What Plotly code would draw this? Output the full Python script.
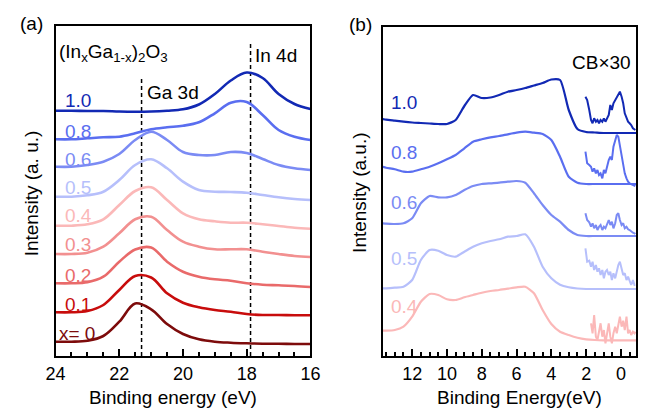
import plotly.graph_objects as go

# ---------------- Panel (a): core-level spectra ----------------
E_A = [24, 23.5, 23, 22.5, 22, 21.5, 21, 20.5, 20, 19.5, 19, 18.5, 18, 17.5, 17, 16.5, 16]
A_LABELS = ["x= 0", "0.1", "0.2", "0.3", "0.4", "0.5", "0.6", "0.8", "1.0"]
A_X00 = [14.3, 14.3, 15.3, 20, 34.3, 52.5, 46.7, 32, 22, 16.7, 14.3, 13.3, 12.7, 12.3, 12.3, 12, 12]
A_X01 = [43.7, 43.7, 45, 51, 66, 80, 78.5, 62.7, 53.3, 48.7, 46, 44.3, 42, 41, 41, 40.7, 40.7]
A_X02 = [72.7, 72.7, 73.7, 79.3, 94.3, 106.5, 108.5, 94.3, 84.3, 79.3, 76.7, 75.3, 72.7, 71.3, 70.7, 70, 69]
A_X03 = [102, 102, 103.3, 109.3, 122.7, 136.7, 139.3, 126, 114.3, 109.3, 106.7, 106.7, 106.7, 104.3, 102, 100, 99]
A_X04 = [130.3, 130.3, 131.7, 136.7, 151, 165, 168.7, 156, 142.7, 136.7, 134.7, 133.3, 133.3, 131.7, 130, 128.3, 127.3]
A_X05 = [159.3, 159.3, 160.7, 164.3, 176, 191, 196.7, 187.7, 174.3, 166, 164.3, 164, 163.3, 161, 158.7, 157, 156]
A_X06 = [189.3, 189.3, 191, 194.3, 202, 216, 224.3, 216, 204, 201, 201, 204, 203, 197, 191, 187.7, 186]
A_X08 = [216.7, 216.7, 217.7, 218.7, 219.3, 222.7, 226.7, 228.7, 230.3, 233.7, 242.7, 253.3, 254, 241, 226, 219.3, 216]
A_X10 = [245.3, 245.3, 245, 245, 244.5, 244.3, 244.5, 245.3, 246.7, 251.5, 262, 275.5, 283.5, 278, 262, 252, 247]
A_SERIES = [A_X00, A_X01, A_X02, A_X03, A_X04, A_X05, A_X06, A_X08, A_X10]
A_LABEL_Y = [333, 304, 275, 244, 215.5, 187.5, 159, 131, 100.5]  # label centres (px)

GA3D_E, GA3D_TOP = 21.3, 280
IN4D_E, IN4D_TOP = 17.88, 312

# ---------------- Panel (b): valence band spectra ----------------
E_B = [13.7, 13.5, 13, 12.5, 12, 11.5, 11, 10.5, 10, 9.5, 9, 8.5, 8, 7.5, 7, 6.5, 6,
       5.5, 5, 4.5, 4, 3.5, 3, 2.5, 2, 1.5, 1, 0.5, 0, -0.5, -0.9]
B_LABELS = ["0.4", "0.5", "0.6", "0.8", "1.0"]
B_X04 = [25.3, 25.3, 26, 29.3, 39.3, 54.3, 62, 61, 56.7, 56, 58.7, 61, 63.3, 65, 66, 67.3, 68.7,
         69.3, 62.7, 46, 32, 24.3, 21, 18.3, 16.7, 16, 15.7, 15.7, 15.7, 15.7, 15.7]
B_X05 = [67.7, 67.7, 68.3, 69.3, 76, 96, 106, 105.3, 101, 99.3, 104.3, 109.3, 112.7, 115, 116.7, 119.3, 120,
         121.7, 109.3, 89.3, 77.7, 71.3, 68.7, 67.5, 67, 67, 67, 67, 67, 67, 67]
B_X06 = [132.7, 132.3, 132, 132.7, 137.7, 152.7, 160, 158.7, 158.7, 161, 166, 170, 172, 172.7, 173.3, 174.3, 175,
         173.3, 162.7, 151, 141, 134.3, 126, 121, 120, 120, 120, 120, 120, 120, 120]
B_X08 = [189.3, 188.3, 186.7, 184.3, 184.3, 186.7, 189.3, 192.7, 196.7, 201, 207.7, 214.3, 216.7, 218.7, 220, 221.7, 223.3,
         224.3, 223.3, 222, 216, 199.3, 179.3, 173.3, 172, 172, 172, 172, 172, 172, 172]
B_X10 = [237, 236.3, 235.3, 234.3, 233.5, 233, 232.5, 232, 232, 236, 250, 261, 258, 258.5, 261, 264.3, 266,
         268, 270.5, 273, 276.5, 276, 246, 227, 224, 223.5, 223, 223, 223, 223, 223]
B_SERIES = [B_X04, B_X05, B_X06, B_X08, B_X10]
B_LABEL_Y = [306.7, 258.3, 202.3, 152.3, 102.3]

# conduction-band (x30) traces
E_CB = [2.04, 1.94, 1.82, 1.72, 1.63, 1.54, 1.44, 1.35, 1.26, 1.17, 1.07, 0.98, 0.89, 0.80, 0.70, 0.61,
        0.52, 0.43, 0.33, 0.24, 0.15, 0.06, -0.04, -0.13, -0.22, -0.32, -0.41, -0.50, -0.59, -0.69, -0.78, -0.83]
CB_X04 = [None, None, None, 32.7, 22.7, 41, 19.3, 16, 26, 32.7, 19.3, 26, 12.7, 22.7, 32.7, 19.3,
          12.7, 22.7, 29.3, 22.7, 32.7, 39.3, 29.3, 35.3, 26, 39.3, 22.7, 26, 21, 24.3, 22.7, 24.3]
CB_X05 = [107.7, 94.3, 95.3, 89.3, 94.3, 86, 91, 84.3, 87.7, 81, 86, 77.7, 84.3, 86, 81, 84.3,
          76, 82.7, 77.7, 84.3, 91, 94.3, 86, 81, 82.7, 76, 79.3, 74.3, 71, 76, 71, 71]
CB_X06 = [142.7, 136, 133.7, 129.3, 132.7, 127.7, 131, 126, 129.3, 131, 126, 129.3, 127.7, 132.7, 136, 131,
          134.3, 127.7, 132.7, 141, 142.7, 136, 131, 132.7, 127.7, 129.3, 126.7, 126, 124.3, 123.3, 122.7, 122]
CB_X08 = [204.3, 192.7, 191, 189.3, 184.3, 187.7, 182.7, 186, 181, 182.7, 177.7, 186, 182.7, 189.3, 196, 199.3,
          196, 209.3, 216, 221, 219.3, 209.3, 199.3, 192.7, 182.7, 177.7, 174.3, 172.7, 172, 171, 170.3, 170]
CB_X10 = [259.3, 256, 246, 236, 232.7, 237.7, 234.3, 236, 232.7, 236, 234.3, 237.7, 234.3, 237.7, 241, 251,
          246, 252.7, 256, 259.3, 262.7, 264.3, 259.3, 252.7, 242.7, 237.7, 234.3, 232.7, 231, 227.7, 226, 226]
CB_SERIES = [CB_X04, CB_X05, CB_X06, CB_X08, CB_X10]

COLORS = {
    "x= 0": "#7d0b0b", "0.1": "#c80c0c", "0.2": "#e96a6a", "0.3": "#f29090",
    "0.4": "#fbb8b8", "0.5": "#b6bffb", "0.6": "#7b8bf4", "0.8": "#5a6ef0", "1.0": "#1229b4",
}

W, H = 648, 410
FONT = "Liberation Sans, Arial, Helvetica, sans-serif"


def px(x):
    return x / W


def py(y):
    return 1 - y / H


fig = go.Figure()

# panel (a) dashed guide lines
for e, top in [(GA3D_E, GA3D_TOP), (IN4D_E, IN4D_TOP)]:
    fig.add_trace(go.Scatter(x=[e, e], y=[0, top], mode="lines", xaxis="x", yaxis="y",
                             line=dict(color="black", width=1.5, dash="4px,3px"),
                             showlegend=False, hoverinfo="skip"))

for lab, vals in zip(A_LABELS, A_SERIES):
    fig.add_trace(go.Scatter(x=E_A, y=vals, mode="lines", xaxis="x", yaxis="y",
                             line=dict(color=COLORS[lab], width=2.6, shape="spline", smoothing=1.0),
                             showlegend=False, hoverinfo="skip"))

for lab, vals in zip(B_LABELS, B_SERIES):
    fig.add_trace(go.Scatter(x=E_B, y=vals, mode="lines", xaxis="x2", yaxis="y2",
                             line=dict(color=COLORS[lab], width=2.2, shape="spline", smoothing=0.6),
                             showlegend=False, hoverinfo="skip"))

for lab, vals in zip(B_LABELS, CB_SERIES):
    fig.add_trace(go.Scatter(x=E_CB, y=vals, mode="lines", xaxis="x2", yaxis="y2",
                             line=dict(color=COLORS[lab], width=2.0),
                             showlegend=False, hoverinfo="skip"))

ann = []
for lab, yc in zip(A_LABELS, A_LABEL_Y):
    ann.append(dict(x=px(49 if lab == "x= 0" else 55), y=py(yc), text=lab, xanchor="left", yanchor="middle",
                    font=dict(size=19, color=COLORS[lab], family=FONT)))
for lab, yc in zip(B_LABELS, B_LABEL_Y):
    ann.append(dict(x=px(391), y=py(yc), text=lab, xanchor="left", yanchor="middle",
                    font=dict(size=19, color=COLORS[lab], family=FONT)))

black = dict(size=19, color="black", family=FONT)
ann += [
    dict(x=px(8), y=py(23), text="(a)", xanchor="left", yanchor="middle", font=black),
    dict(x=px(348), y=py(24), text="(b)", xanchor="left", yanchor="middle", font=black),
    dict(x=px(49), y=py(53), text="(In<sub>x</sub>Ga<sub>1-x</sub>)<sub>2</sub>O<sub>3</sub>",
         xanchor="left", yanchor="middle", font=black),
    dict(x=px(139), y=py(93), text="Ga 3d", xanchor="left", yanchor="middle", font=black),
    dict(x=px(251), y=py(55), text="In 4d", xanchor="left", yanchor="middle", font=black),
    dict(x=px(643), y=py(62), text="CB×30", xanchor="right", yanchor="middle", font=black),
    dict(x=px(22), y=py(193), text="Intensity (a. u.)", textangle=-90, xanchor="center",
         yanchor="middle", font=black),
    dict(x=px(360), y=py(193), text="Intensity (a.u.)", textangle=-90, xanchor="center",
         yanchor="middle", font=black),
    dict(x=px(168), y=py(397), text="Binding energy (eV)", xanchor="center", yanchor="middle", font=black),
    dict(x=px(526), y=py(397), text="Binding Energy(eV)", xanchor="center", yanchor="middle", font=black),
]
for a in ann:
    a.update(xref="paper", yref="paper", showarrow=False)

xcommon = dict(showline=True, mirror=True, linecolor="black", linewidth=2, ticks="inside",
               ticklen=7, tickwidth=1.5, tickcolor="black", dtick=2, tick0=0,
               tickfont=dict(size=18, color="black", family=FONT),
               minor=dict(ticks="inside", dtick=0.5, ticklen=4, tickwidth=1.5, tickcolor="black"),
               showgrid=False, zeroline=False, fixedrange=True)
ycommon = dict(showline=True, mirror=True, linecolor="black", linewidth=2, ticks="",
               showticklabels=False, showgrid=False, zeroline=False, fixedrange=True)

fig.update_layout(
    width=W, height=H, margin=dict(l=0, r=0, t=0, b=0),
    paper_bgcolor="white", plot_bgcolor="white",
    font=dict(family=FONT, size=18, color="black"),
    xaxis=dict(domain=[px(47), px(310)], range=[24, 16], anchor="y", **xcommon),
    yaxis=dict(domain=[py(356), py(26)], range=[0, 330], anchor="x", **ycommon),
    xaxis2=dict(domain=[px(385), px(646)], range=[13.67, -0.87], anchor="y2", **xcommon),
    yaxis2=dict(domain=[py(356), py(27)], range=[0, 329], anchor="x2", **ycommon),
    annotations=ann,
)

fig.write_html("out.html")
